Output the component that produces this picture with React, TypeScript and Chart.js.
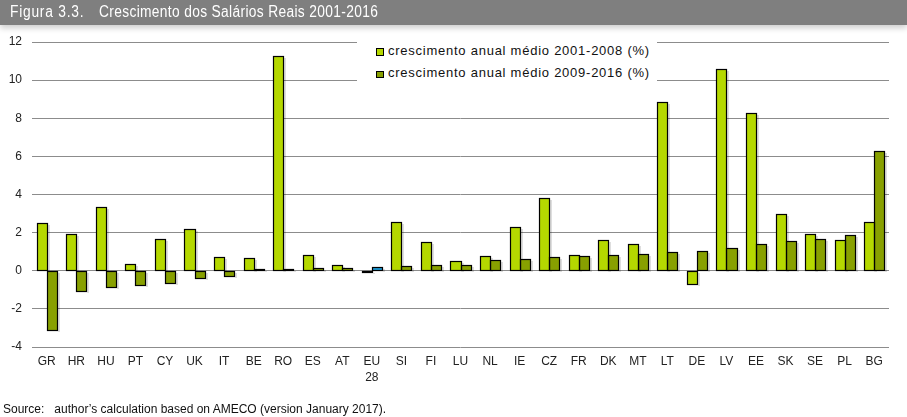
import React, { useEffect, useRef } from "react";
import { Chart, registerables } from "chart.js";

Chart.register(...registerables);

const categories: (string | string[])[] = [
  "GR", "HR", "HU", "PT", "CY", "UK", "IT", "BE", "RO", "ES", "AT", ["EU", "28"], "SI", "FI",
  "LU", "NL", "IE", "CZ", "FR", "DK", "MT", "LT", "DE", "LV", "EE", "SK", "SE", "PL", "BG",
];

const growth2001_2008 = [
  2.5, 1.95, 3.35, 0.35, 1.65, 2.2, 0.72, 0.68, 11.25, 0.84, 0.32, -0.05, 2.55, 1.5,
  0.53, 0.79, 2.3, 3.82, 0.84, 1.63, 1.42, 8.85, -0.68, 10.57, 8.27, 3.0, 1.95, 1.63, 2.58,
];

const growth2009_2016 = [
  -3.1, -1.05, -0.85, -0.75, -0.63, -0.37, -0.26, 0.1, 0.1, 0.16, 0.15, 0.21, 0.25, 0.3,
  0.32, 0.58, 0.63, 0.74, 0.79, 0.84, 0.89, 1.0, 1.05, 1.21, 1.42, 1.58, 1.68, 1.89, 6.27,
];

const seriesLabels = [
  "crescimento anual médio 2001-2008 (%)",
  "crescimento anual médio 2009-2016 (%)",
];

const yTicks = [-4, -2, 0, 2, 4, 6, 8, 10, 12];

const LIGHT = "#b5d800";
const DARK = "#88a000";
const BLUE = "#1c9bd6";

const crispBars = {
  id: "crispBars",
  beforeDatasetDraw: () => false,
  afterDatasetsDraw: (chart: any) => {
    const ctx = chart.ctx as CanvasRenderingContext2D;
    const area = chart.chartArea;
    ctx.save();
    ctx.beginPath();
    ctx.rect(area.left - 2, area.top - 2, area.right - area.left + 6, area.bottom - area.top + 6);
    ctx.clip();
    const rects: any[] = [];
    chart.data.datasets.forEach((ds: any, di: number) => {
      const meta = chart.getDatasetMeta(di);
      meta.data.forEach((el: any, i: number) => {
        const p = el.getProps(["x", "y", "base", "width"], true);
        const l = Math.round(p.x - p.width / 2);
        const r = Math.round(p.x + p.width / 2);
        let t = Math.round(Math.min(p.y, p.base));
        let b = Math.round(Math.max(p.y, p.base));
        if (b - t < 1) b = t + 1;
        const bg = Array.isArray(ds.backgroundColor) ? ds.backgroundColor[i] : ds.backgroundColor;
        rects.push({ l, r, t, b, bg });
      });
    });
    ctx.fillStyle = "rgba(0,0,0,0.13)";
    rects.forEach((q) => {
      ctx.fillRect(q.r + 1, q.t + 2, 2, q.b - q.t);
    });
    rects.forEach((q) => {
      ctx.fillStyle = q.bg;
      ctx.fillRect(q.l, q.t, q.r - q.l, q.b - q.t);
    });
    ctx.strokeStyle = "#000";
    ctx.lineWidth = 1.2;
    rects.forEach((q) => {
      ctx.strokeRect(q.l + 0.5, q.t + 0.5, q.r - q.l, q.b - q.t);
    });
    ctx.restore();
  },
};

const titleFont = "'Liberation Sans', Arial, sans-serif";

export default function App() {
  const ref = useRef<HTMLCanvasElement | null>(null);

  useEffect(() => {
    document.body.style.margin = "0";
    const canvas = ref.current;
    if (!canvas) return;
    const darkColors = categories.map((c) => (Array.isArray(c) ? BLUE : DARK));
    const chart = new Chart(canvas, {
      type: "bar",
      data: {
        labels: categories as any,
        datasets: [
          {
            label: seriesLabels[0],
            data: growth2001_2008,
            backgroundColor: LIGHT,
            borderWidth: 0,
            categoryPercentage: 0.68,
            barPercentage: 1,
          },
          {
            label: seriesLabels[1],
            data: growth2009_2016,
            backgroundColor: darkColors,
            borderWidth: 0,
            categoryPercentage: 0.68,
            barPercentage: 1,
          },
        ],
      },
      plugins: [crispBars],
      options: {
        animation: false,
        responsive: false,
        maintainAspectRatio: false,
        devicePixelRatio: 1,
        layout: { padding: { top: 42, right: 18, bottom: 30, left: 0 } },
        plugins: {
          legend: { display: false },
          tooltip: { enabled: false },
          title: { display: false },
        },
        scales: {
          x: {
            grid: { display: false, drawTicks: false },
            border: { display: false },
            ticks: {
              color: "#222",
              font: { family: "'Liberation Sans', Arial, sans-serif", size: 12, lineHeight: 1.3 },
              padding: 7,
              maxRotation: 0,
              autoSkip: false,
            },
            afterFit: (s: any) => {
              s.height = 40;
            },
          },
          y: {
            min: -4,
            max: 12,
            afterBuildTicks: (s: any) => {
              s.ticks = yTicks.map((v) => ({ value: v }));
            },
            grid: { color: "#8c8c8c", lineWidth: 1, drawTicks: false },
            border: { display: false },
            ticks: {
              color: "#222",
              font: { family: "'Liberation Sans', Arial, sans-serif", size: 12 },
              padding: 10,
            },
            afterFit: (s: any) => {
              s.width = 32;
            },
          },
        },
      },
    });
    return () => chart.destroy();
  }, []);

  const titleSpan: React.CSSProperties = {
    position: "absolute",
    top: 0,
    transform: "scaleX(0.86)",
    transformOrigin: "0 0",
    fontFamily: titleFont,
    fontSize: 16,
    lineHeight: "24px",
    letterSpacing: "0.4px",
  };

  return (
    <div style={{ position: "relative", width: 907, height: 417, background: "#fff", overflow: "hidden" }}>
      <canvas ref={ref} width={907} height={417} style={{ position: "absolute", left: 0, top: 0, width: 907, height: 417 }} />
      <div
        style={{
          position: "absolute",
          left: 0,
          top: 0,
          width: 907,
          height: 25,
          background: "#7f7f7f",
          boxShadow: "0 3px 6px rgba(0,0,0,0.2)",
          color: "#fff",
          whiteSpace: "pre",
        }}
      >
        <span style={{ ...titleSpan, left: 10, letterSpacing: "0.9px" }}>Figura 3.3.</span>
        <span style={{ ...titleSpan, left: 99 }}>Crescimento dos Salários Reais 2001-2016</span>
      </div>
      <div
        style={{
          position: "absolute",
          left: 357,
          top: 36,
          width: 300,
          height: 52,
          background: "#fff",
          fontFamily: "'Liberation Sans', Arial, sans-serif",
          fontSize: 13,
          color: "#111",
          letterSpacing: "0.75px",
          whiteSpace: "pre",
        }}
      >
        <div style={{ position: "absolute", left: 19, top: 12, width: 6, height: 6, background: LIGHT, border: "1px solid #000" }} />
        <div style={{ position: "absolute", left: 31, top: 7, lineHeight: "16px" }}>{seriesLabels[0]}</div>
        <div style={{ position: "absolute", left: 19, top: 35, width: 6, height: 5, background: DARK, border: "1px solid #000" }} />
        <div style={{ position: "absolute", left: 31, top: 29, lineHeight: "16px" }}>{seriesLabels[1]}</div>
      </div>
      <div
        style={{
          position: "absolute",
          left: 3,
          top: 402,
          fontFamily: "'Liberation Sans', Arial, sans-serif",
          fontSize: 12,
          color: "#111",
          whiteSpace: "pre",
        }}
      >
        {"Source:   author’s calculation based on AMECO (version January 2017)."}
      </div>
    </div>
  );
}
